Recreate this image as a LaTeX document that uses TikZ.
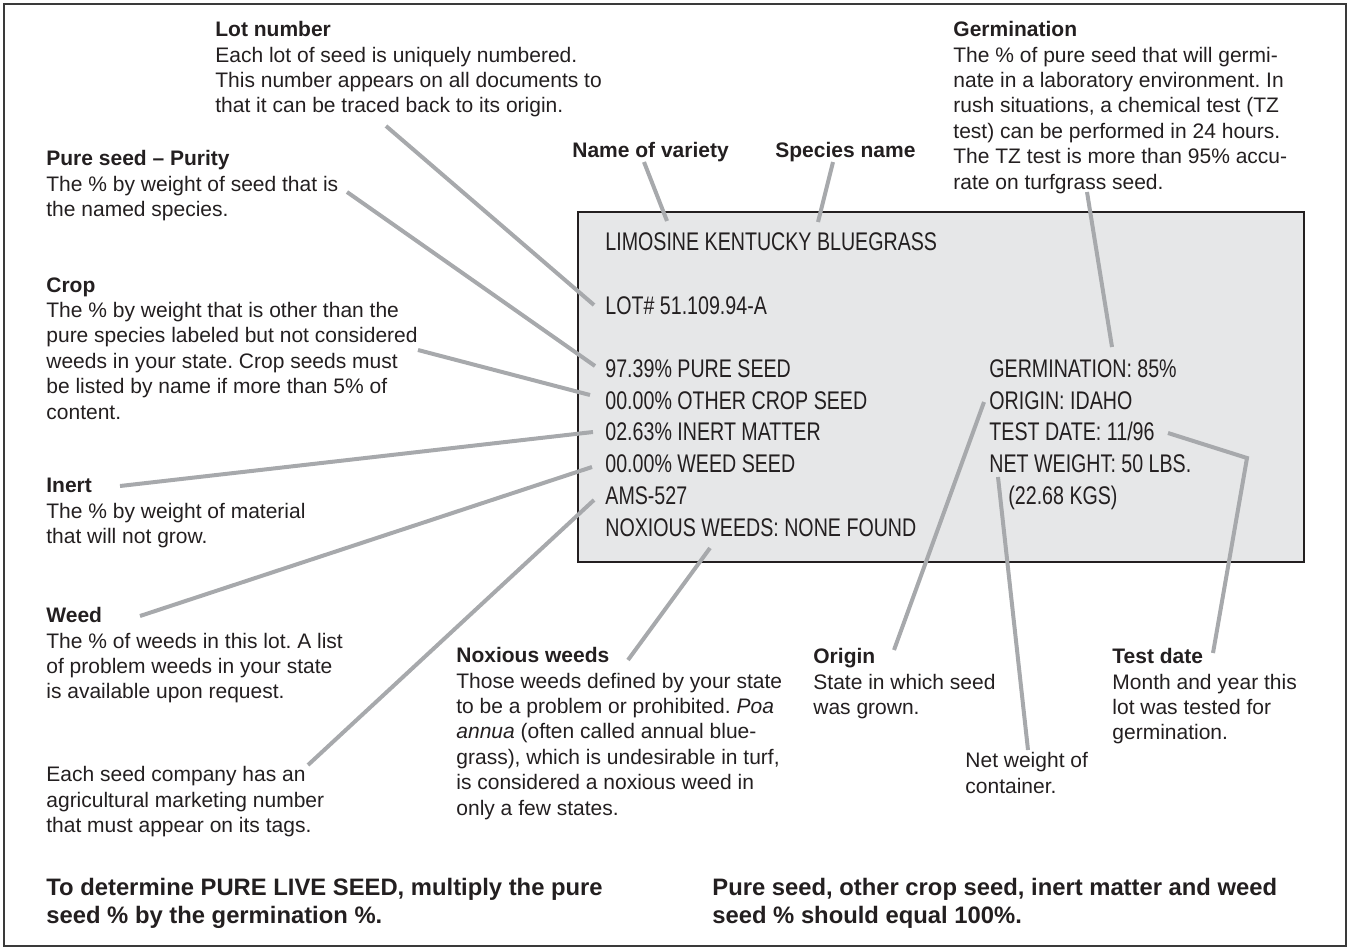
\documentclass[tikz,border=0pt]{standalone}
\usepackage{fontspec}
\setmainfont{Liberation Sans}
\newfontfamily\tagfont[FakeStretch=0.77]{Liberation Sans}
\definecolor{leadgray}{HTML}{A7A9AC}
\definecolor{tagfill}{HTML}{E6E7E8}
\definecolor{inkdark}{HTML}{231F20}
\definecolor{framegray}{HTML}{3A3A3A}
\frenchspacing
\begin{document}
\begin{tikzpicture}[x=0.5pt,y=-0.5pt,
  lbl/.style={anchor=north west, inner sep=0pt, align=left, text=inkdark,
    font=\fontsize{10.5}{12.7}\selectfont},
  bot/.style={anchor=north west, inner sep=0pt, align=left, text=inkdark,
    font=\bfseries\fontsize{11.9}{13.9}\selectfont},
  tagtxt/.style={anchor=north west, inner sep=0pt, align=left, text=inkdark,
    font=\tagfont\fontsize{12.75}{15.9}\selectfont},
  leader/.style={draw=leadgray, line width=2pt},
  tagbox/.style={draw=inkdark, fill=tagfill, line width=1.25pt}]
\useasboundingbox (0,0) rectangle (1349,948);
% outer frame
\draw[framegray, line width=1.1pt] (4,4) rectangle (1346,946);
% the seed tag
\draw[tagbox] (578,212) rectangle (1304,562);

% leader end points
\coordinate (varietyA) at (644,162);  \coordinate (varietyB) at (667,221);
\coordinate (speciesA) at (833,162);  \coordinate (speciesB) at (818,222);
\coordinate (lotA) at (386,126);      \coordinate (lotB) at (594,305);
\coordinate (germA) at (1087,192);    \coordinate (germB) at (1112,347);
\coordinate (pureA) at (347,192);     \coordinate (pureB) at (595,366);
\coordinate (cropA) at (418,350);     \coordinate (cropB) at (590,395);
\coordinate (inertA) at (120,486);    \coordinate (inertB) at (593,432);
\coordinate (weedA) at (140,616);     \coordinate (weedB) at (592,467);
\coordinate (amsA) at (308,765);      \coordinate (amsB) at (594,500);
\coordinate (noxA) at (628,660);      \coordinate (noxB) at (710,548);
\coordinate (originA) at (894,650);   \coordinate (originB) at (984,402);
\coordinate (netA) at (1028,750);     \coordinate (netB) at (998,477);
\coordinate (testA) at (1213,653);    \coordinate (testK) at (1247,458);
\coordinate (testB) at (1168,433);

\draw[leader] (varietyA) -- (varietyB);
\draw[leader] (speciesA) -- (speciesB);
\draw[leader] (lotA) -- (lotB);
\draw[leader] (germA) -- (germB);
\draw[leader] (pureA) -- (pureB);
\draw[leader] (cropA) -- (cropB);
\draw[leader] (inertA) -- (inertB);
\draw[leader] (weedA) -- (weedB);
\draw[leader] (amsA) -- (amsB);
\draw[leader] (noxA) -- (noxB);
\draw[leader] (originA) -- (originB);
\draw[leader] (netA) -- (netB);
\draw[leader, line join=miter] (testA) -- (testK) -- (testB);

% tag text
\node[tagtxt] (tname) at (605,232) {LIMOSINE KENTUCKY BLUEGRASS};
\node[tagtxt] (tlot) at (605,296) {LOT\# 51.109.94-A};
\node[tagtxt] (tleft) at (605,359) {97.39\% PURE SEED\\00.00\% OTHER CROP SEED\\02.63\% INERT MATTER\\00.00\% WEED SEED\\AMS-527\\NOXIOUS WEEDS: NONE FOUND};
\node[tagtxt] (tright) at (989,359) {GERMINATION: 85\%\\ORIGIN: IDAHO\\TEST DATE: 11/96\\NET WEIGHT: 50 LBS.\\\hspace*{9.5pt}(22.68 KGS)};

% labels
\node[lbl] (lot) at (215,21) {\textbf{Lot number}\\Each lot of seed is uniquely numbered.\\This number appears on all documents to\\that it can be traced back to its origin.};
\node[lbl] (germ) at (953,21) {\textbf{Germination}\\The \% of pure seed that will germi-\\nate in a laboratory environment. In\\rush situations, a chemical test (TZ\\test) can be performed in 24 hours.\\The TZ test is more than 95\% accu-\\rate on turfgrass seed.};
\node[lbl] (variety) at (572,142) {\textbf{Name of variety}};
\node[lbl] (species) at (775,142) {\textbf{Species name}};
\node[lbl] (pure) at (46,150) {\textbf{Pure seed -- Purity}\\The \% by weight of seed that is\\the named species.};
\node[lbl] (crop) at (46,277) {\textbf{Crop}\\The \% by weight that is other than the\\pure species labeled but not considered\\weeds in your state. Crop seeds must\\be listed by name if more than 5\% of\\content.};
\node[lbl] (inert) at (46,478) {\textbf{Inert}\\The \% by weight of material\\that will not grow.};
\node[lbl] (weed) at (46,607) {\textbf{Weed}\\The \% of weeds in this lot. A list\\of problem weeds in your state\\is available upon request.};
\node[lbl] (ams) at (46,766) {Each seed company has an\\agricultural marketing number\\that must appear on its tags.};
\node[lbl] (nox) at (456,647) {\textbf{Noxious weeds}\\Those weeds defined by your state\\to be a problem or prohibited. \textit{Poa}\\\textit{annua} (often called annual blue-\\grass), which is undesirable in turf,\\is considered a noxious weed in\\only a few states.};
\node[lbl] (origin) at (813,648) {\textbf{Origin}\\State in which seed\\was grown.};
\node[lbl] (net) at (965,752) {Net weight of\\container.};
\node[lbl] (test) at (1112,648) {\textbf{Test date}\\Month and year this\\lot was tested for\\germination.};

% bottom notes
\node[bot] (plsnote) at (46,878) {To determine PURE LIVE SEED, multiply the pure\\seed \% by the germination \%.};
\node[bot] (sumnote) at (712,878) {Pure seed, other crop seed, inert matter and weed\\seed \% should equal 100\%.};
\end{tikzpicture}
\end{document}
